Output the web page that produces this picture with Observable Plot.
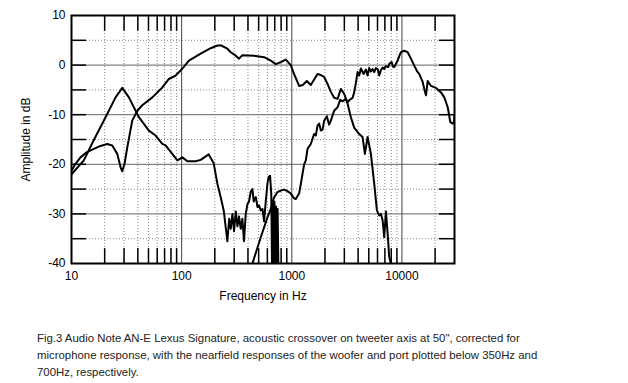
<!DOCTYPE html>
<html>
<head>
<meta charset="utf-8">
<script src="https://cdn.jsdelivr.net/npm/d3@7"></script>
<script src="https://cdn.jsdelivr.net/npm/@observablehq/plot@0.6"></script>
<style>
  body { margin: 0; background: #fff; width: 628px; }
  #chart svg { display: block; }
  #caption { font-family: "Liberation Sans", Arial, sans-serif; font-size: 11.4px; line-height: 17px; color: #222; padding-left: 37px; margin-top: 2px; width: 585px; }
</style>
</head>
<body>
<div id="chart"></div>
<div id="caption">Fig.3 Audio Note AN-E Lexus Signature, acoustic crossover on tweeter axis at 50", corrected for<br>microphone response, with the nearfield responses of the woofer and port plotted below 350Hz and<br>700Hz, respectively.</div>
<script>
const wooferHz = [10, 10.87, 12.07, 13.69, 15.95, 18.35, 21.11, 23.44, 26.03, 27.9, 28.9, 30.3, 32.1, 35.6, 39.6, 43.9, 54.2, 66.8, 76.6, 88.2, 101.5, 116.5, 129.4, 148.8, 183.5, 208, 226, 260, 279, 310, 332, 356, 454, 560, 645, 715, 794, 882, 979, 1049, 1087, 1165, 1259, 1369, 1488, 1712, 1835, 1967, 2111, 2262, 2424, 2604, 2790, 2990, 3209, 3439, 3686, 4091, 4392, 4609, 4877, 5226, 5600, 5925, 6219, 6445, 6677, 6904, 7152, 7413, 7663, 7943];
const wooferDb = [-21.3, -19.9, -18.6, -17.6, -16.9, -16.3, -15.9, -16.2, -17.9, -20.6, -21.4, -19.9, -16.6, -11.2, -9.2, -8.1, -6.5, -4.5, -2.8, -2.1, -0.7, 0.9, 1.5, 2.3, 3.4, 3.9, 4.0, 3.3, 2.6, 1.9, 1.3, 2.0, 1.9, 1.6, 0.9, 0.2, 0.6, 1.1, 0, -1.8, -2.6, -4.2, -4.0, -3.2, -4.0, -1.8, -2.0, -2.4, -3.8, -5.4, -6.6, -6.8, -4.8, -5.8, -7.8, -10.5, -12.6, -13.9, -14.5, -17.9, -14.5, -17.9, -23.9, -29.3, -30.3, -30.0, -31.3, -34.7, -29.5, -33.9, -38.7, -40];

const portHz = [10, 12.94, 15.95, 20.38, 25.12, 28.9, 33.2, 40.9, 50.4, 58.0, 66.8, 71.5, 82.3, 91.4, 101.5, 112.7, 134.1, 148.8, 176.0, 195.4, 211.1, 226, 240.9, 260, 270.3, 279, 289, 299, 310, 321, 332, 344, 356, 368, 382, 396, 409, 424, 439, 451, 471, 488, 504, 523, 542, 560, 580, 601, 618, 635, 651, 661, 672, 683, 695, 707, 719, 730, 743, 755];
const portDb = [-22.0, -19.2, -15.1, -10.5, -6.5, -4.6, -6.5, -10.5, -13.2, -14.2, -15.9, -16.2, -17.9, -19.2, -18.6, -19.4, -19.4, -19.1, -18.0, -19.8, -23.9, -26.6, -29.3, -35.5, -31.0, -33.0, -30.0, -33.5, -29.5, -32.5, -30.5, -33.0, -31.0, -35.5, -30.0, -28.0, -27.5, -25.5, -25.0, -27.5, -26.6, -28.6, -28.3, -29.3, -29.0, -31.5, -27.5, -23.9, -22.5, -22.3, -26.0, -40, -28.0, -40, -27.5, -40, -28.5, -40, -29.0, -40];

const tweeterHz = [439, 523, 601, 645, 686, 741, 794, 851, 914, 979, 1043, 1087, 1165, 1207, 1294, 1341, 1389, 1488, 1595, 1653, 1712, 1772, 1835, 1901, 1967, 2081, 2183, 2262, 2424, 2604, 2749, 2890, 3097, 3209, 3319, 3563, 3686, 3778, 3957, 4091, 4240, 4374, 4485, 4707, 4877, 5043, 5226, 5415, 5600, 5803, 6015, 6219, 6445, 6677, 6904, 7152, 7506, 7698, 8063, 8284, 8511, 8822, 9140, 9452, 9793, 10493, 11268, 12071, 12937, 13690, 14368, 15426, 16016, 16530, 17125, 18349, 20379, 22621, 24241, 26037, 27488, 28903, 29699, 30000];
const tweeterDb = [-40, -34.7, -30.7, -29.0, -26.8, -25.6, -25.3, -25.1, -25.4, -25.9, -26.8, -27.0, -25.9, -24.0, -20.0, -19.2, -16.9, -15.9, -13.9, -14.2, -12.2, -11.8, -13.2, -13.0, -11.2, -10.3, -12.0, -11.2, -9.2, -8.5, -7.0, -7.3, -6.8, -7.5, -7.1, -6.6, -5.5, -4.2, -1.4, -2.1, -0.7, -1.3, -1.8, -0.9, -2.1, -0.6, -1.3, -0.8, -1.4, -0.6, -0.8, -2.1, -1.0, -0.5, -0.8, -0.2, -0.4, 0.3, 0.6, -0.3, -0.4, 0.3, 0.9, 1.8, 2.6, 2.9, 2.6, 1.3, -0.1, -1.2, -1.8, -3.4, -5.0, -6.1, -3.2, -4.2, -4.6, -5.5, -6.5, -8.5, -11.5, -11.8, -11.5, -10.2];

const xMajor = [10, 100, 1000, 10000];
const xGridSolid = [100, 1000, 10000];
const xMinor = [20, 30, 40, 50, 60, 70, 80, 90, 200, 300, 400, 500, 600, 700, 800, 900, 2000, 3000, 4000, 5000, 6000, 7000, 8000, 9000, 20000];
const yMajor = [10, 0, -10, -20, -30, -40];
const yGridSolid = [0, -10, -20, -30];
const yMinor = [5, -5, -15, -25, -35];
const yTicks = [5, 0, -5, -10, -15, -20, -25, -30, -35];

const zip = (hz, db) => hz.map((f, i) => ({f, db: db[i]}));
const woofer = zip(wooferHz, wooferDb);
const port = zip(portHz, portDb);
const tweeter = zip(tweeterHz, tweeterDb);

const font = "Liberation Sans, Arial, sans-serif";
const chart = Plot.plot({
  width: 628,
  height: 328,
  marginLeft: 71,
  marginRight: 174,
  marginTop: 15,
  marginBottom: 65,
  style: {fontFamily: font, fontSize: "12px", color: "#000", background: "#fff"},
  x: {type: "log", domain: [10, 30000]},
  y: {domain: [-40, 10]},
  marks: [
    Plot.ruleY(yMinor, {stroke: "#888", strokeDasharray: "1,2", strokeWidth: 1}),
    Plot.ruleX(xMinor, {stroke: "#888", strokeDasharray: "1,2", strokeWidth: 1}),
    Plot.ruleY(yGridSolid, {stroke: "#666", strokeWidth: 1}),
    Plot.ruleX(xGridSolid, {stroke: "#444", strokeWidth: 1}),
    Plot.ruleY(yTicks, {x1: 10, x2: 13.7, stroke: "#000", strokeWidth: 1.5}),
    Plot.ruleY(yTicks, {x1: 21900, x2: 30000, stroke: "#000", strokeWidth: 1.5}),
    Plot.ruleX(xMinor, {y1: 10, y2: 6.8, stroke: "#000", strokeWidth: 1.5}),
    Plot.ruleX(xMinor, {y1: -40, y2: -37, stroke: "#000", strokeWidth: 1.5}),
    Plot.line(woofer, {x: "f", y: "db", stroke: "#000", strokeWidth: 2, clip: true}),
    Plot.line(port, {x: "f", y: "db", stroke: "#000", strokeWidth: 2, clip: true}),
    Plot.line(tweeter, {x: "f", y: "db", stroke: "#000", strokeWidth: 2, clip: true}),
    Plot.frame({stroke: "#000", strokeWidth: 2}),
    Plot.axisX(xMajor, {tickSize: 0, tickPadding: 8, tickFormat: d => String(d), label: "Frequency in Hz", labelAnchor: "center", labelArrow: "none", labelOffset: 36, fontSize: 12}),
    Plot.axisY(yMajor, {tickSize: 0, tickPadding: 6, tickFormat: d => String(d), label: "Amplitude in dB", labelAnchor: "center", labelArrow: "none", labelOffset: 50, fontSize: 12})
  ]
});
document.getElementById("chart").appendChild(chart);
</script>
</body>
</html>
